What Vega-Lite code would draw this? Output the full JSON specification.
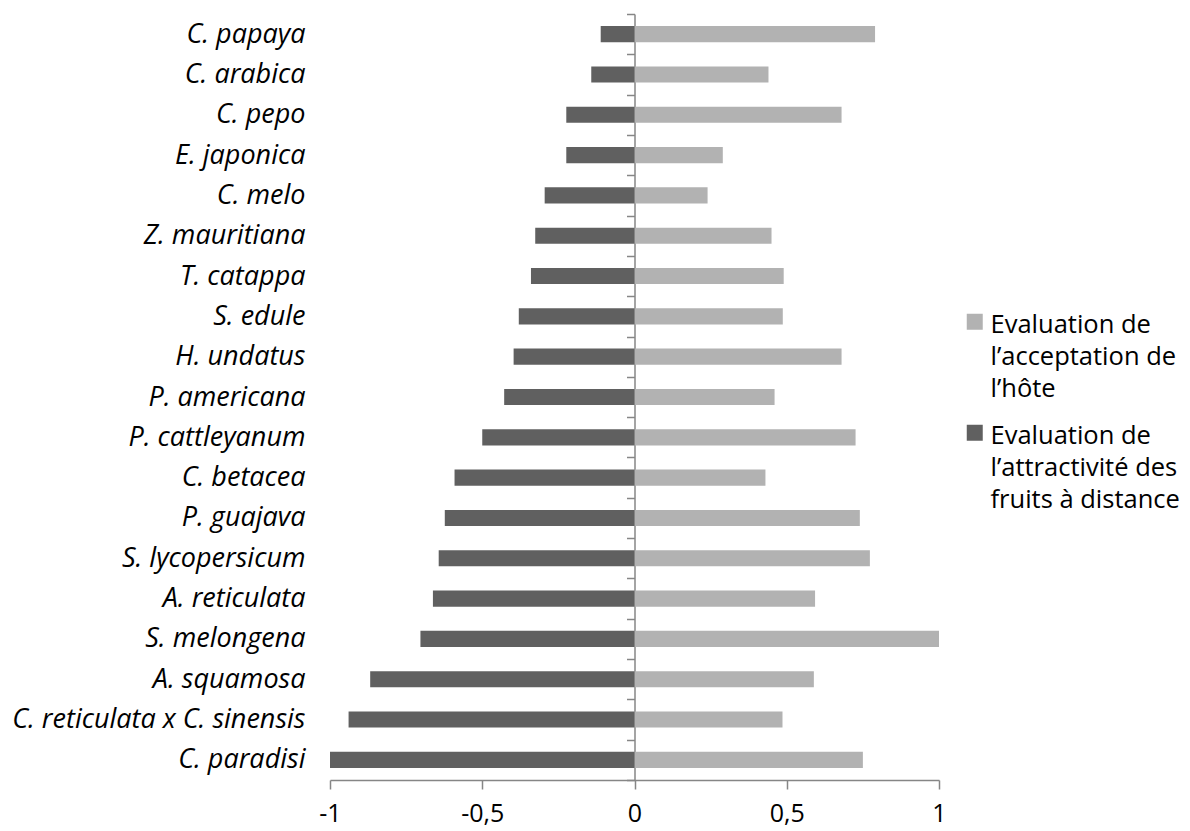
{
  "$schema": "https://vega.github.io/schema/vega-lite/v6.json",
  "width": 609,
  "height": 766,
  "autosize": "none",
  "padding": {"left": 330, "top": 14, "right": 251, "bottom": 51},
  "background": "white",
  "config": {"view": {"stroke": null}, "font": "Open Sans"},
  "data": {
    "values": [
      {"species": "C. papaya", "serie": "acc", "value": 0.79},
      {"species": "C. arabica", "serie": "acc", "value": 0.44},
      {"species": "C. pepo", "serie": "acc", "value": 0.68},
      {"species": "E. japonica", "serie": "acc", "value": 0.29},
      {"species": "C. melo", "serie": "acc", "value": 0.24},
      {"species": "Z. mauritiana", "serie": "acc", "value": 0.45},
      {"species": "T. catappa", "serie": "acc", "value": 0.49},
      {"species": "S. edule", "serie": "acc", "value": 0.487},
      {"species": "H. undatus", "serie": "acc", "value": 0.68},
      {"species": "P. americana", "serie": "acc", "value": 0.46},
      {"species": "P. cattleyanum", "serie": "acc", "value": 0.726},
      {"species": "C. betacea", "serie": "acc", "value": 0.43},
      {"species": "P. guajava", "serie": "acc", "value": 0.74},
      {"species": "S. lycopersicum", "serie": "acc", "value": 0.773},
      {"species": "A. reticulata", "serie": "acc", "value": 0.593},
      {"species": "S. melongena", "serie": "acc", "value": 1.0},
      {"species": "A. squamosa", "serie": "acc", "value": 0.589},
      {"species": "C. reticulata x C. sinensis", "serie": "acc", "value": 0.486},
      {"species": "C. paradisi", "serie": "acc", "value": 0.75},
      {"species": "C. papaya", "serie": "att", "value": -0.111},
      {"species": "C. arabica", "serie": "att", "value": -0.142},
      {"species": "C. pepo", "serie": "att", "value": -0.224},
      {"species": "E. japonica", "serie": "att", "value": -0.224},
      {"species": "C. melo", "serie": "att", "value": -0.295},
      {"species": "Z. mauritiana", "serie": "att", "value": -0.326},
      {"species": "T. catappa", "serie": "att", "value": -0.34},
      {"species": "S. edule", "serie": "att", "value": -0.38},
      {"species": "H. undatus", "serie": "att", "value": -0.397},
      {"species": "P. americana", "serie": "att", "value": -0.428},
      {"species": "P. cattleyanum", "serie": "att", "value": -0.5},
      {"species": "C. betacea", "serie": "att", "value": -0.591},
      {"species": "P. guajava", "serie": "att", "value": -0.623},
      {"species": "S. lycopersicum", "serie": "att", "value": -0.643},
      {"species": "A. reticulata", "serie": "att", "value": -0.662},
      {"species": "S. melongena", "serie": "att", "value": -0.703},
      {"species": "A. squamosa", "serie": "att", "value": -0.868},
      {"species": "C. reticulata x C. sinensis", "serie": "att", "value": -0.939},
      {"species": "C. paradisi", "serie": "att", "value": -1.0}
    ]
  },
  "mark": {"type": "bar", "height": {"band": 0.4}},
  "encoding": {
    "y": {
      "field": "species",
      "type": "nominal",
      "sort": null,
      "scale": {"paddingInner": 0, "paddingOuter": 0},
      "axis": {
        "orient": "left",
        "offset": -304.5,
        "title": null,
        "grid": false,
        "tickBand": "extent",
        "tickSize": 8,
        "tickWidth": 1.5,
        "tickColor": "#868686",
        "domainColor": "#868686",
        "domainWidth": 1.5,
        "labelPadding": 321.5,
        "labelFontSize": 27,
        "labelFontStyle": "italic",
        "labelColor": "#000000",
        "labelLimit": 400
      }
    },
    "x": {
      "field": "value",
      "type": "quantitative",
      "scale": {"domain": [-1, 1], "nice": false, "zero": false},
      "axis": {
        "title": null,
        "grid": false,
        "values": [-1, -0.5, 0, 0.5, 1],
        "labelExpr": "replace(toString(datum.value), '.', ',')",
        "labelFlush": false,
        "labelFontSize": 25,
        "labelColor": "#000000",
        "labelPadding": 12,
        "tickSize": 9,
        "tickWidth": 1.5,
        "tickColor": "#868686",
        "domainColor": "#868686",
        "domainWidth": 1.5
      }
    },
    "color": {
      "field": "serie",
      "type": "nominal",
      "scale": {"domain": ["acc", "att"], "range": ["#b2b2b2", "#606060"]},
      "legend": {
        "orient": "none",
        "legendX": 632,
        "legendY": 295,
        "title": null,
        "symbolType": "square",
        "symbolSize": 256,
        "symbolStrokeWidth": 0,
        "labelFontSize": 25.5,
        "labelColor": "#000000",
        "labelLimit": 300,
        "labelOffset": 3,
        "labelBaseline": "top",
        "rowPadding": 17,
        "labelExpr": "datum.value == 'acc' ? ['Evaluation de', 'l’acceptation de', 'l’hôte'] : ['Evaluation de', 'l’attractivité des', 'fruits à distance']",
        "encode": {"labels": {"update": {"lineHeight": {"value": 32}, "dy": {"value": -9}}}}
      }
    }
  }
}
